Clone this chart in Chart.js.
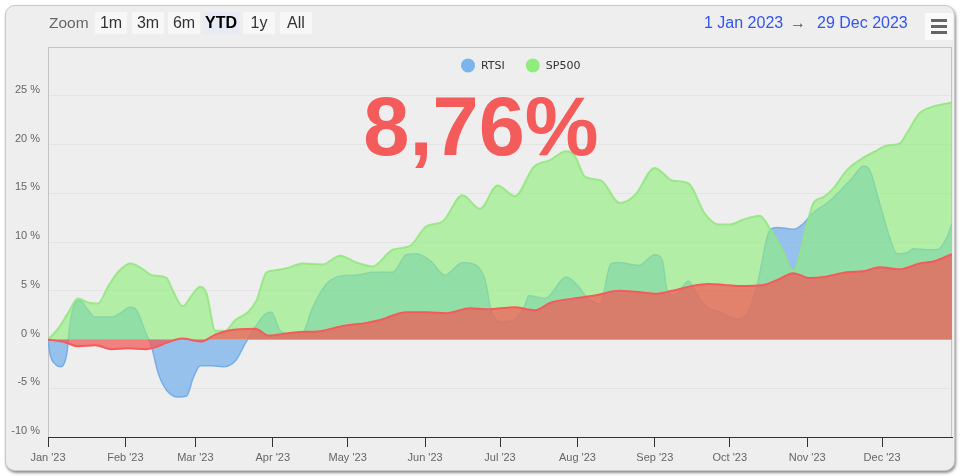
<!DOCTYPE html>
<html>
<head>
<meta charset="utf-8">
<script src="https://cdn.jsdelivr.net/npm/chart.js@4.4.0/dist/chart.umd.min.js"></script>
<style>
body { margin: 0; background: #fff; font-family: "Liberation Sans", Arial, sans-serif; }
#wrap { position: relative; width: 964px; height: 476px; overflow: hidden; }
#card { position: absolute; left: 5px; top: 5px; width: 948px; height: 464px; background: #eeeeee;
        border: 1px solid #c9c9c9; border-radius: 10px; box-shadow: 1px 2px 3px rgba(0,0,0,0.45); }
#chart { position: absolute; left: 0; top: 0; }
.lbl { position: absolute; top: 12px; height: 22px; line-height: 22px; font-size: 16px; white-space: nowrap; }
.btn { background: #f7f7f7; color: #333; text-align: center; }
.btn.on { background: #e6ebf5; font-weight: bold; color: #000; }
.date { color: #3355ee; }
#menu { position: absolute; left: 925px; top: 13px; width: 28px; height: 27px; background: #fafafa; }
#menu div { position: absolute; left: 6px; width: 16px; height: 3px; background: #666; }
</style>
</head>
<body>
<div id="wrap">
  <div id="card"></div>
  <canvas id="chart" width="964" height="476"></canvas>
  <div class="lbl" style="left:49px; color:#666; font-size:15.5px;">Zoom</div>
  <div class="lbl btn" style="left:95px; width:32px;">1m</div>
  <div class="lbl btn" style="left:132px; width:32px;">3m</div>
  <div class="lbl btn" style="left:168px; width:32px;">6m</div>
  <div class="lbl btn on" style="left:203px; width:36px;">YTD</div>
  <div class="lbl btn" style="left:243px; width:32px;">1y</div>
  <div class="lbl btn" style="left:280px; width:32px;">All</div>
  <div class="lbl date" style="left:704px;">1 Jan 2023</div>
  <div class="lbl" style="left:790px; color:#555;">→</div>
  <div class="lbl date" style="left:817px;">29 Dec 2023</div>
  <div id="menu"><div style="top:6px"></div><div style="top:12px"></div><div style="top:18px"></div></div>
</div>
<script>
// days since 1 Jan 2023
var monthDays = [0, 31, 59, 90, 120, 151, 181, 212, 243, 273, 304, 334];
var monthLabels = ["Jan '23", "Feb '23", "Mar '23", "Apr '23", "May '23", "Jun '23",
                   "Jul '23", "Aug '23", "Sep '23", "Oct '23", "Nov '23", "Dec '23"];

var rtsiDays = [0, 0.8, 2.8, 5.2, 7.5, 8.8, 10.8, 12.8, 15.5, 18.8, 25.5, 29.5, 32.8, 35.5, 38.8, 41.5,
    44.2, 47.5, 52.2, 55.5, 58.2, 61, 65.5, 70, 75, 79, 83, 87, 89.5, 93, 97, 102,
    106, 111.5, 117, 123.5, 130, 138, 143.5, 147.5, 153, 159, 166, 171.5, 175, 177.5, 182, 187,
    191, 192.5, 199, 207.5, 212.5, 215.5, 221, 225.5, 228.5, 236.5, 243, 246, 248, 251, 256.5, 259,
    263, 269, 276, 280, 284, 289, 292, 298.5, 302.5, 306, 312, 317, 322.5, 326.5, 329, 333,
    337, 340, 344, 346.5, 352, 356, 360, 362];
var rtsiValues = [0, -1.5, -2.5, -2.8, -1.5, 1.6, 3.7, 4.0, 3.2, 2.3, 2.3, 2.8, 3.3, 3.0, 0.9, -0.8,
    -3.5, -5.2, -5.9, -5.8, -3.9, -2.7, -2.7, -2.8, -2.2, -0.4, 1.3, 2.6, 2.8, 0.9, 0.6, 0.75,
    3.3, 5.7, 6.5, 6.6, 6.9, 6.9, 8.7, 8.8, 8.1, 6.6, 7.9, 7.6, 6.1, 3.0, 1.8, 2.1,
    3.5, 4.5, 4.2, 6.4, 5.4, 4.4, 3.6, 7.8, 7.9, 7.6, 8.7, 8.1, 5.0, 4.5, 6.0, 5.0,
    3.5, 2.8, 2.1, 2.6, 5.6, 11.2, 11.5, 11.3, 11.9, 12.9, 14.0, 15.2, 16.7, 17.8, 17.4, 14.0,
    10.5, 8.8, 8.9, 9.3, 9.2, 9.2, 10.5, 11.9];

var spDays = [0, 4, 8, 12, 16, 20, 24, 28, 33, 37.5, 41.5, 47.5, 50, 54, 57.5, 61, 63.5,
    67, 71, 75, 80, 83.5, 87.5, 91, 95.5, 102, 110, 117, 123.5, 130, 138, 145, 151.5,
    158, 166, 173, 180, 187, 194.5, 201, 207.5, 211, 215, 221.5, 229, 235, 243, 250, 256.5,
    263, 268.5, 273, 278.5, 285, 289, 294, 298.5, 304, 306.5, 310.5, 314.5, 320, 325, 332, 336,
    341, 344, 349, 354.5, 362];
var spValues = [0, 1.1, 2.7, 4.2, 3.8, 3.7, 5.4, 6.9, 7.8, 7.3, 6.6, 6.3, 5.0, 3.4, 4.5, 5.4, 4.7,
    0.9, 0.9, 2.0, 2.8, 4.0, 6.9, 7.1, 7.3, 7.8, 7.7, 8.6, 7.9, 7.5, 9.2, 9.6, 11.6,
    12.1, 14.8, 13.4, 15.8, 14.7, 17.7, 18.4, 19.3, 18.8, 16.7, 16.3, 14.0, 14.8, 17.6, 16.3, 16.0,
    12.9, 11.8, 11.8, 12.3, 12.7, 11.4, 9.2, 7.0, 11.9, 14.0, 14.6, 15.5, 17.4, 18.4, 19.4, 19.9,
    20.1, 21.2, 23.2, 23.9, 24.3];

var resDays = [0, 7, 12, 19, 25.5, 32, 39, 43, 48, 53.5, 61.5, 67, 72, 83, 88.5, 99.5,
    109, 118.5, 127.5, 133, 143.5, 151.5, 159.5, 169, 175.5, 181, 186.5, 195, 201.5, 213.5, 220.5, 228.5,
    235, 243, 250, 258, 264.5, 271, 276, 286.5, 292, 298.5, 305, 310.5, 320, 326.5, 333, 341,
    349, 354.5, 362];
var resValues = [0, -0.3, -0.7, -0.6, -1.0, -0.9, -1.0, -0.8, -0.3, 0.1, -0.2, 0.5, 0.9, 1.1, 0.4, 0.75,
    0.85, 1.4, 1.7, 2.0, 2.8, 2.8, 2.7, 3.2, 3.1, 3.2, 3.3, 3.0, 3.8, 4.3, 4.6, 5.0,
    4.9, 4.7, 5.0, 5.5, 5.7, 5.6, 5.5, 5.6, 6.1, 6.8, 6.3, 6.4, 6.9, 7.0, 7.4, 7.2,
    7.8, 8.0, 8.76];

function pts(days, values) {
    return days.map(function (d, i) { return { x: d, y: values[i] }; });
}

var font = { family: '"Liberation Sans", Arial, sans-serif', size: 11 };

// plot border (top/left/right)
var plotBorder = {
    id: 'plotBorder',
    beforeDatasetsDraw: function (chart) {
        var a = chart.chartArea, ctx = chart.ctx;
        ctx.save();
        ctx.strokeStyle = '#c4c4c4';
        ctx.lineWidth = 1;
        ctx.beginPath();
        ctx.moveTo(a.left + 0.5, a.bottom);
        ctx.lineTo(a.left + 0.5, a.top + 0.5);
        ctx.lineTo(a.right - 0.5, a.top + 0.5);
        ctx.lineTo(a.right - 0.5, a.bottom);
        ctx.stroke();
        ctx.restore();
    }
};

// legend floating inside the plot + big final value
var overlay = {
    id: 'overlay',
    afterDraw: function (chart) {
        var ctx = chart.ctx;
        ctx.save();
        ctx.font = 'bold 83px "Liberation Sans", Arial, sans-serif';
        ctx.fillStyle = '#f45b5b';
        ctx.textAlign = 'center';
        ctx.textBaseline = 'alphabetic';
        var last = resValues[resValues.length - 1];
        ctx.fillText(last.toFixed(2).replace('.', ',') + '%', 481, 155);

        ctx.font = '11px "DejaVu Sans", sans-serif';
        ctx.textAlign = 'left';
        ctx.textBaseline = 'middle';
        var x = 461, y = 65.5;
        chart.data.datasets.forEach(function (ds) {
            if (!ds.inLegend) return;
            ctx.fillStyle = ds.legendColor;
            ctx.beginPath();
            ctx.arc(x + 7, y, 7, 0, Math.PI * 2);
            ctx.fill();
            ctx.fillStyle = '#333';
            ctx.fillText(ds.label, x + 20, y + 1);
            x += 20 + ctx.measureText(ds.label).width + 21;
        });
        ctx.restore();
    }
};

var ctx = document.getElementById('chart').getContext('2d');
var chart = new Chart(ctx, {
    type: 'line',
    data: {
        datasets: [
            {
                label: 'RTSI',
                data: pts(rtsiDays, rtsiValues),
                inLegend: true,
                legendColor: '#7cb5ec',
                borderColor: 'rgba(110,170,232,0.9)',
                backgroundColor: 'rgba(124,181,236,0.78)',
                borderWidth: 1.5,
                fill: 'origin',
                order: 3
            },
            {
                label: 'SP500',
                data: pts(spDays, spValues),
                inLegend: true,
                legendColor: '#90ed7d',
                borderColor: 'rgba(144,230,125,0.85)',
                backgroundColor: 'rgba(144,237,125,0.63)',
                borderWidth: 2,
                fill: 'origin',
                order: 2
            },
            {
                label: 'Result',
                data: pts(resDays, resValues),
                inLegend: false,
                borderColor: '#f45b5b',
                backgroundColor: 'rgba(240,92,88,0.75)',
                borderWidth: 2,
                fill: 'origin',
                order: 1
            }
        ]
    },
    options: {
        responsive: false,
        animation: false,
        devicePixelRatio: 1,
        layout: { padding: { top: 47, right: 12, left: 0, bottom: 0 } },
        elements: {
            point: { radius: 0 },
            line: { cubicInterpolationMode: 'monotone' }
        },
        plugins: {
            legend: { display: false },
            tooltip: { enabled: false }
        },
        scales: {
            x: {
                type: 'linear',
                min: 0,
                max: 362,
                afterBuildTicks: function (s) {
                    s.ticks = monthDays.map(function (v) { return { value: v }; });
                },
                afterFit: function (s) { s.height = 39; },
                grid: { drawOnChartArea: false, drawTicks: true, tickLength: 10, tickColor: '#333', color: '#333' },
                border: { display: true, color: '#333' },
                ticks: {
                    autoSkip: false, maxRotation: 0, padding: 4, color: '#666', font: font,
                    callback: function (v, i) { return monthLabels[i]; }
                }
            },
            y: {
                min: -10,
                max: 30,
                afterFit: function (s) { s.width = 48; },
                grid: { color: '#e3e3e3', drawTicks: false },
                border: { display: false },
                ticks: {
                    stepSize: 5, padding: 8, labelOffset: -6, color: '#666', font: font,
                    callback: function (v) { return v === 30 ? '' : v + ' %'; }
                }
            }
        }
    },
    plugins: [plotBorder, overlay]
});
</script>
</body>
</html>
